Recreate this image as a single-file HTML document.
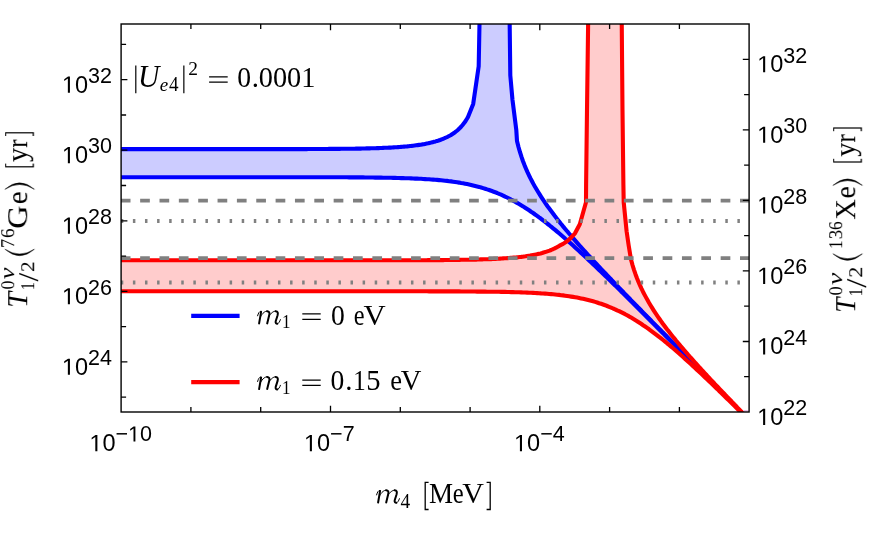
<!DOCTYPE html>
<html><head><meta charset="utf-8"><title>plot</title><style>html,body{margin:0;padding:0;background:#fff}svg{display:block}</style></head><body>
<svg width="872" height="537" viewBox="0 0 872 537">
<rect width="872" height="537" fill="#fff"/>
<defs><clipPath id="c"><rect x="121.1" y="24.0" width="628.0" height="388.0"/></clipPath></defs>
<g clip-path="url(#c)" fill="none" stroke-linejoin="round">
<polygon points="119.1,149.1 120.6,149.1 122.1,149.1 123.6,149.1 125.1,149.1 126.6,149.1 128.1,149.1 129.6,149.1 131.1,149.1 132.6,149.1 134.1,149.1 135.6,149.1 137.1,149.1 138.6,149.1 140.1,149.1 141.6,149.1 143.1,149.1 144.6,149.1 146.1,149.1 147.6,149.1 149.1,149.1 150.6,149.1 152.1,149.1 153.6,149.1 155.1,149.1 156.6,149.1 158.1,149.1 159.6,149.1 161.1,149.1 162.6,149.1 164.1,149.1 165.6,149.1 167.1,149.1 168.6,149.1 170.1,149.1 171.6,149.1 173.1,149.1 174.6,149.1 176.1,149.1 177.6,149.1 179.1,149.1 180.6,149.1 182.1,149.1 183.6,149.1 185.1,149.1 186.6,149.1 188.1,149.1 189.6,149.1 191.1,149.1 192.6,149.1 194.1,149.1 195.6,149.1 197.1,149.1 198.6,149.1 200.1,149.1 201.6,149.1 203.1,149.1 204.6,149.1 206.1,149.1 207.6,149.1 209.1,149.1 210.6,149.1 212.1,149.1 213.6,149.1 215.1,149.1 216.6,149.1 218.1,149.1 219.6,149.1 221.1,149.1 222.6,149.1 224.1,149.1 225.6,149.1 227.1,149.1 228.6,149.1 230.1,149.1 231.6,149.1 233.1,149.1 234.6,149.1 236.1,149.1 237.6,149.1 239.1,149.1 240.6,149.1 242.1,149.1 243.6,149.1 245.1,149.1 246.6,149.1 248.1,149.1 249.6,149.1 251.1,149.1 252.6,149.1 254.1,149.1 255.6,149.1 257.1,149.1 258.6,149.1 260.1,149.1 261.6,149.1 263.1,149.1 264.6,149.1 266.1,149.1 267.6,149.1 269.1,149.1 270.6,149.1 272.1,149.1 273.6,149.1 275.1,149.1 276.6,149.1 278.1,149.1 279.6,149.1 281.1,149.1 282.6,149.1 284.1,149.1 285.6,149.1 287.1,149.1 288.6,149.1 290.1,149.1 291.6,149.1 293.1,149.1 294.6,149.1 296.1,149.1 297.6,149.1 299.1,149.1 300.6,149.1 302.1,149.1 303.6,149.1 305.1,149.1 306.6,149.1 308.1,149.0 309.6,149.0 311.1,149.0 312.6,149.0 314.1,149.0 315.6,149.0 317.1,149.0 318.6,149.0 320.1,149.0 321.6,149.0 323.1,149.0 324.6,149.0 326.1,149.0 327.6,149.0 329.1,148.9 330.6,148.9 332.1,148.9 333.6,148.9 335.1,148.9 336.6,148.9 338.1,148.9 339.6,148.9 341.1,148.8 342.6,148.8 344.1,148.8 345.6,148.8 347.1,148.8 348.6,148.8 350.1,148.7 351.6,148.7 353.1,148.7 354.6,148.7 356.1,148.6 357.6,148.6 359.1,148.6 360.6,148.6 362.1,148.5 363.6,148.5 365.1,148.5 366.6,148.4 368.1,148.4 369.6,148.4 371.1,148.3 372.6,148.3 374.1,148.2 375.6,148.2 377.1,148.1 378.6,148.1 380.1,148.0 381.6,148.0 383.1,147.9 384.6,147.8 386.1,147.8 387.6,147.7 389.1,147.6 390.6,147.6 392.1,147.5 393.6,147.4 395.1,147.3 396.6,147.2 398.1,147.1 399.6,147.0 401.1,146.9 402.6,146.8 404.1,146.6 405.6,146.5 407.1,146.4 408.6,146.2 410.1,146.0 411.6,145.9 413.1,145.7 414.6,145.5 416.1,145.3 417.6,145.1 419.1,144.9 420.6,144.7 422.1,144.4 423.6,144.2 425.1,143.9 426.6,143.6 428.1,143.3 429.6,142.9 431.1,142.6 432.6,142.2 434.1,141.8 435.6,141.4 437.1,140.9 438.6,140.5 440.1,140.0 441.6,139.4 443.1,138.8 444.6,138.2 446.1,137.5 447.6,136.8 449.1,136.0 450.6,135.2 452.1,134.2 453.6,133.2 455.1,132.2 456.6,131.0 458.1,129.7 459.6,128.3 461.1,126.8 462.6,125.0 464.1,123.1 465.6,121.0 467.1,118.5 468.0,116.9 473.2,103.9 478.7,66.2 479.6,18.0 509.6,18.0 510.3,75.4 512.5,100.0 516.3,130.0 517.0,141.0 518.5,147.0 520.0,152.2 521.5,156.9 523.0,161.2 524.5,165.1 526.0,168.7 527.5,172.1 529.0,175.3 530.5,178.4 532.0,181.3 533.5,184.1 535.0,186.8 536.5,189.3 538.0,191.8 539.5,194.2 541.0,196.6 542.5,198.9 544.0,201.1 545.5,203.3 547.0,205.5 548.5,207.6 550.0,209.6 551.5,211.6 553.0,213.6 554.5,215.6 556.0,217.5 557.5,219.4 559.0,221.3 560.5,223.2 562.0,225.0 563.5,226.9 565.0,228.7 566.5,230.5 568.0,232.2 569.5,234.0 571.0,235.7 572.5,237.5 574.0,239.2 575.5,240.9 577.0,242.6 578.5,244.3 580.0,246.0 581.5,247.7 583.0,249.3 584.5,251.0 586.0,252.6 587.5,254.3 589.0,255.9 590.5,257.5 592.0,259.2 593.5,260.8 595.0,262.4 596.5,264.0 598.0,265.6 599.5,267.2 601.0,268.8 602.5,270.4 604.0,272.0 605.5,273.5 607.0,275.1 608.5,276.7 610.0,278.3 611.5,279.8 613.0,281.4 614.5,283.0 616.0,284.5 617.5,286.1 619.0,287.7 620.5,289.2 622.0,290.8 623.5,292.3 625.0,293.9 626.5,295.4 628.0,297.0 629.5,298.5 631.0,300.1 632.5,301.6 634.0,303.1 635.5,304.7 637.0,306.2 638.5,307.8 640.0,309.3 641.5,310.8 643.0,312.4 644.5,313.9 646.0,315.4 647.5,317.0 649.0,318.5 650.5,320.0 652.0,321.6 653.5,323.1 655.0,324.6 656.5,326.2 658.0,327.7 659.5,329.2 661.0,330.7 662.5,332.3 664.0,333.8 665.5,335.3 667.0,336.8 668.5,338.4 670.0,339.9 671.5,341.4 673.0,342.9 674.5,344.4 676.0,346.0 677.5,347.5 679.0,349.0 680.5,350.5 682.0,352.1 683.5,353.6 685.0,355.1 686.5,356.6 688.0,358.1 689.5,359.7 691.0,361.2 692.5,362.7 694.0,364.2 695.5,365.7 697.0,367.3 698.5,368.8 700.0,370.3 701.5,371.8 703.0,373.3 704.5,374.9 706.0,376.4 707.5,377.9 709.0,379.4 710.5,380.9 712.0,382.4 713.5,384.0 715.0,385.5 716.5,387.0 718.0,388.5 719.5,390.0 721.0,391.6 722.5,393.1 724.0,394.6 725.5,396.1 727.0,397.6 728.5,399.1 730.0,400.7 731.5,402.2 733.0,403.7 734.5,405.2 736.0,406.7 737.5,408.2 739.0,409.8 740.5,411.3 742.0,412.8 743.5,414.3 745.0,415.8 746.5,417.3 748.0,418.9 749.5,420.4 751.0,421.9 752.5,423.4 754.0,424.9 755.5,426.4 757.0,428.0 757.1,428.1 757.1,428.1 755.1,426.1 753.1,424.0 751.1,422.0 749.1,420.0 747.1,418.0 745.1,416.0 743.1,413.9 741.1,411.9 739.1,409.9 737.1,407.9 735.1,405.8 733.1,403.8 731.1,401.8 729.1,399.8 727.1,397.8 725.1,395.7 723.1,393.7 721.1,391.7 719.1,389.7 717.1,387.7 715.1,385.6 713.1,383.6 711.1,381.6 709.1,379.6 707.1,377.6 705.1,375.6 703.1,373.5 701.1,371.5 699.1,369.5 697.1,367.5 695.1,365.5 693.1,363.4 691.1,361.4 689.1,359.4 687.1,357.4 685.1,355.4 683.1,353.4 681.1,351.4 679.1,349.3 677.1,347.3 675.1,345.3 673.1,343.3 671.1,341.3 669.1,339.3 667.1,337.3 665.1,335.3 663.1,333.2 661.1,331.2 659.1,329.2 657.1,327.2 655.1,325.2 653.1,323.2 651.1,321.2 649.1,319.2 647.1,317.2 645.1,315.2 643.1,313.2 641.1,311.2 639.1,309.2 637.1,307.2 635.1,305.2 633.1,303.2 631.1,301.3 629.1,299.3 627.1,297.3 625.1,295.3 623.1,293.3 621.1,291.4 619.1,289.4 617.1,287.4 615.1,285.4 613.1,283.5 611.1,281.5 609.1,279.6 607.1,277.6 605.1,275.7 603.1,273.8 601.1,271.8 599.1,269.9 597.1,268.0 595.1,266.1 593.1,264.2 591.1,262.3 589.1,260.4 587.1,258.5 585.1,256.6 583.1,254.7 581.1,252.9 579.1,251.0 577.1,249.2 575.1,247.4 573.1,245.6 571.1,243.8 569.1,242.0 567.1,240.2 565.1,238.5 563.1,236.7 561.1,235.0 559.1,233.3 557.1,231.6 555.1,229.9 553.1,228.3 551.1,226.7 549.1,225.0 547.1,223.5 545.1,221.9 543.1,220.4 541.1,218.8 539.1,217.4 537.1,215.9 535.1,214.5 533.1,213.0 531.1,211.7 529.1,210.3 527.1,209.0 525.1,207.7 523.1,206.4 521.1,205.2 519.1,204.0 517.1,202.9 515.1,201.7 513.1,200.6 511.1,199.6 509.1,198.5 507.1,197.5 505.1,196.6 503.1,195.6 501.1,194.7 499.1,193.9 497.1,193.0 495.1,192.2 493.1,191.5 491.1,190.7 489.1,190.0 487.1,189.4 485.1,188.7 483.1,188.1 481.1,187.5 479.1,186.9 477.1,186.4 475.1,185.9 473.1,185.4 471.1,184.9 469.1,184.5 467.1,184.1 465.1,183.7 463.1,183.3 461.1,183.0 459.1,182.6 457.1,182.3 455.1,182.0 453.1,181.7 451.1,181.4 449.1,181.2 447.1,180.9 445.1,180.7 443.1,180.5 441.1,180.3 439.1,180.1 437.1,179.9 435.1,179.8 433.1,179.6 431.1,179.5 429.1,179.3 427.1,179.2 425.1,179.1 423.1,179.0 421.1,178.8 419.1,178.7 417.1,178.6 415.1,178.6 413.1,178.5 411.1,178.4 409.1,178.3 407.1,178.2 405.1,178.2 403.1,178.1 401.1,178.1 399.1,178.0 397.1,178.0 395.1,177.9 393.1,177.9 391.1,177.8 389.1,177.8 387.1,177.7 385.1,177.7 383.1,177.7 381.1,177.6 379.1,177.6 377.1,177.6 375.1,177.6 373.1,177.5 371.1,177.5 369.1,177.5 367.1,177.5 365.1,177.5 363.1,177.4 361.1,177.4 359.1,177.4 357.1,177.4 355.1,177.4 353.1,177.4 351.1,177.4 349.1,177.4 347.1,177.3 345.1,177.3 343.1,177.3 341.1,177.3 339.1,177.3 337.1,177.3 335.1,177.3 333.1,177.3 331.1,177.3 329.1,177.3 327.1,177.3 325.1,177.3 323.1,177.3 321.1,177.3 319.1,177.3 317.1,177.3 315.1,177.3 313.1,177.2 311.1,177.2 309.1,177.2 307.1,177.2 305.1,177.2 303.1,177.2 301.1,177.2 299.1,177.2 297.1,177.2 295.1,177.2 293.1,177.2 291.1,177.2 289.1,177.2 287.1,177.2 285.1,177.2 283.1,177.2 281.1,177.2 279.1,177.2 277.1,177.2 275.1,177.2 273.1,177.2 271.1,177.2 269.1,177.2 267.1,177.2 265.1,177.2 263.1,177.2 261.1,177.2 259.1,177.2 257.1,177.2 255.1,177.2 253.1,177.2 251.1,177.2 249.1,177.2 247.1,177.2 245.1,177.2 243.1,177.2 241.1,177.2 239.1,177.2 237.1,177.2 235.1,177.2 233.1,177.2 231.1,177.2 229.1,177.2 227.1,177.2 225.1,177.2 223.1,177.2 221.1,177.2 219.1,177.2 217.1,177.2 215.1,177.2 213.1,177.2 211.1,177.2 209.1,177.2 207.1,177.2 205.1,177.2 203.1,177.2 201.1,177.2 199.1,177.2 197.1,177.2 195.1,177.2 193.1,177.2 191.1,177.2 189.1,177.2 187.1,177.2 185.1,177.2 183.1,177.2 181.1,177.2 179.1,177.2 177.1,177.2 175.1,177.2 173.1,177.2 171.1,177.2 169.1,177.2 167.1,177.2 165.1,177.2 163.1,177.2 161.1,177.2 159.1,177.2 157.1,177.2 155.1,177.2 153.1,177.2 151.1,177.2 149.1,177.2 147.1,177.2 145.1,177.2 143.1,177.2 141.1,177.2 139.1,177.2 137.1,177.2 135.1,177.2 133.1,177.2 131.1,177.2 129.1,177.2 127.1,177.2 125.1,177.2 123.1,177.2 121.1,177.2 119.1,177.2" fill="#0000ff" fill-opacity="0.2"/>
<polygon points="119.1,260.3 120.6,260.3 122.1,260.3 123.6,260.3 125.1,260.3 126.6,260.3 128.1,260.3 129.6,260.3 131.1,260.3 132.6,260.3 134.1,260.3 135.6,260.3 137.1,260.3 138.6,260.3 140.1,260.3 141.6,260.3 143.1,260.3 144.6,260.3 146.1,260.3 147.6,260.3 149.1,260.3 150.6,260.3 152.1,260.3 153.6,260.3 155.1,260.3 156.6,260.3 158.1,260.3 159.6,260.3 161.1,260.3 162.6,260.3 164.1,260.3 165.6,260.3 167.1,260.3 168.6,260.3 170.1,260.3 171.6,260.3 173.1,260.3 174.6,260.3 176.1,260.3 177.6,260.3 179.1,260.3 180.6,260.3 182.1,260.3 183.6,260.3 185.1,260.3 186.6,260.3 188.1,260.3 189.6,260.3 191.1,260.3 192.6,260.3 194.1,260.3 195.6,260.3 197.1,260.3 198.6,260.3 200.1,260.3 201.6,260.3 203.1,260.3 204.6,260.3 206.1,260.3 207.6,260.3 209.1,260.3 210.6,260.3 212.1,260.3 213.6,260.3 215.1,260.3 216.6,260.3 218.1,260.3 219.6,260.3 221.1,260.3 222.6,260.3 224.1,260.3 225.6,260.3 227.1,260.3 228.6,260.3 230.1,260.3 231.6,260.3 233.1,260.3 234.6,260.3 236.1,260.3 237.6,260.3 239.1,260.3 240.6,260.3 242.1,260.3 243.6,260.3 245.1,260.3 246.6,260.3 248.1,260.3 249.6,260.3 251.1,260.3 252.6,260.3 254.1,260.3 255.6,260.3 257.1,260.3 258.6,260.3 260.1,260.3 261.6,260.3 263.1,260.3 264.6,260.3 266.1,260.3 267.6,260.3 269.1,260.3 270.6,260.3 272.1,260.3 273.6,260.3 275.1,260.3 276.6,260.3 278.1,260.3 279.6,260.3 281.1,260.3 282.6,260.3 284.1,260.3 285.6,260.3 287.1,260.3 288.6,260.3 290.1,260.3 291.6,260.3 293.1,260.3 294.6,260.3 296.1,260.3 297.6,260.3 299.1,260.3 300.6,260.3 302.1,260.3 303.6,260.3 305.1,260.3 306.6,260.3 308.1,260.3 309.6,260.3 311.1,260.3 312.6,260.3 314.1,260.3 315.6,260.3 317.1,260.3 318.6,260.3 320.1,260.3 321.6,260.3 323.1,260.3 324.6,260.3 326.1,260.3 327.6,260.3 329.1,260.3 330.6,260.3 332.1,260.3 333.6,260.3 335.1,260.3 336.6,260.3 338.1,260.3 339.6,260.3 341.1,260.3 342.6,260.3 344.1,260.3 345.6,260.3 347.1,260.3 348.6,260.3 350.1,260.3 351.6,260.3 353.1,260.3 354.6,260.3 356.1,260.3 357.6,260.3 359.1,260.3 360.6,260.3 362.1,260.3 363.6,260.3 365.1,260.3 366.6,260.3 368.1,260.3 369.6,260.3 371.1,260.3 372.6,260.3 374.1,260.3 375.6,260.3 377.1,260.3 378.6,260.3 380.1,260.3 381.6,260.3 383.1,260.3 384.6,260.3 386.1,260.3 387.6,260.3 389.1,260.3 390.6,260.3 392.1,260.3 393.6,260.3 395.1,260.2 396.6,260.2 398.1,260.2 399.6,260.2 401.1,260.2 402.6,260.2 404.1,260.2 405.6,260.2 407.1,260.2 408.6,260.2 410.1,260.2 411.6,260.2 413.1,260.2 414.6,260.2 416.1,260.2 417.6,260.2 419.1,260.2 420.6,260.2 422.1,260.2 423.6,260.2 425.1,260.2 426.6,260.2 428.1,260.1 429.6,260.1 431.1,260.1 432.6,260.1 434.1,260.1 435.6,260.1 437.1,260.1 438.6,260.1 440.1,260.1 441.6,260.1 443.1,260.1 444.6,260.0 446.1,260.0 447.6,260.0 449.1,260.0 450.6,260.0 452.1,260.0 453.6,259.9 455.1,259.9 456.6,259.9 458.1,259.9 459.6,259.9 461.1,259.8 462.6,259.8 464.1,259.8 465.6,259.8 467.1,259.7 468.6,259.7 470.1,259.7 471.6,259.7 473.1,259.6 474.6,259.6 476.1,259.6 477.6,259.5 479.1,259.5 480.6,259.4 482.1,259.4 483.6,259.3 485.1,259.3 486.6,259.2 488.1,259.2 489.6,259.1 491.1,259.1 492.6,259.0 494.1,258.9 495.6,258.9 497.1,258.8 498.6,258.7 500.1,258.6 501.6,258.5 503.1,258.4 504.6,258.3 506.1,258.2 507.6,258.1 509.1,258.0 510.6,257.9 512.1,257.8 513.6,257.6 515.1,257.5 516.6,257.4 518.1,257.2 519.6,257.0 521.1,256.9 522.6,256.7 524.1,256.5 525.6,256.3 527.1,256.0 528.6,255.8 530.1,255.6 531.6,255.3 533.1,255.0 534.6,254.7 536.1,254.4 537.6,254.1 539.1,253.7 540.6,253.4 542.1,253.0 543.6,252.5 545.1,252.1 546.6,251.6 548.1,251.1 549.6,250.6 551.1,250.0 552.6,249.3 554.1,248.7 555.6,247.9 556.0,247.7 559.5,245.7 563.1,243.9 567.0,241.3 570.6,238.1 575.0,233.3 579.8,224.3 586.0,202.3 586.1,185.0 587.0,110.0 588.2,18.0 621.7,18.0 622.5,110.0 623.4,185.0 623.7,202.3 626.6,231.2 628.6,245.0 631.0,259.5 632.5,265.0 634.0,269.8 635.5,274.2 637.0,278.2 638.5,281.9 640.0,285.3 641.5,288.6 643.0,291.7 644.5,294.6 646.0,297.4 647.5,300.1 649.0,302.8 650.5,305.3 652.0,307.7 653.5,310.1 655.0,312.4 656.5,314.6 658.0,316.8 659.5,319.0 661.0,321.1 662.5,323.2 664.0,325.2 665.5,327.2 667.0,329.2 668.5,331.1 670.0,333.0 671.5,334.9 673.0,336.8 674.5,338.6 676.0,340.5 677.5,342.3 679.0,344.1 680.5,345.9 682.0,347.6 683.5,349.4 685.0,351.1 686.5,352.8 688.0,354.6 689.5,356.3 691.0,357.9 692.5,359.6 694.0,361.3 695.5,363.0 697.0,364.6 698.5,366.3 700.0,367.9 701.5,369.6 703.0,371.2 704.5,372.8 706.0,374.4 707.5,376.1 709.0,377.7 710.5,379.3 712.0,380.9 713.5,382.5 715.0,384.1 716.5,385.6 718.0,387.2 719.5,388.8 721.0,390.4 722.5,392.0 724.0,393.5 725.5,395.1 727.0,396.7 728.5,398.2 730.0,399.8 731.5,401.3 733.0,402.9 734.5,404.5 736.0,406.0 737.5,407.6 739.0,409.1 740.5,410.7 742.0,412.2 743.5,413.8 745.0,415.3 746.5,416.8 748.0,418.4 749.5,419.9 751.0,421.5 752.5,423.0 754.0,424.5 755.5,426.1 757.0,427.6 757.1,427.7 757.1,428.4 755.1,426.4 753.1,424.4 751.1,422.4 749.1,420.4 747.1,418.4 745.1,416.4 743.1,414.5 741.1,412.5 739.1,410.5 737.1,408.5 735.1,406.5 733.1,404.6 731.1,402.6 729.1,400.6 727.1,398.7 725.1,396.7 723.1,394.8 721.1,392.8 719.1,390.9 717.1,388.9 715.1,387.0 713.1,385.1 711.1,383.1 709.1,381.2 707.1,379.3 705.1,377.4 703.1,375.5 701.1,373.6 699.1,371.7 697.1,369.9 695.1,368.0 693.1,366.2 691.1,364.3 689.1,362.5 687.1,360.7 685.1,358.9 683.1,357.1 681.1,355.3 679.1,353.5 677.1,351.8 675.1,350.0 673.1,348.3 671.1,346.6 669.1,344.9 667.1,343.3 665.1,341.6 663.1,340.0 661.1,338.4 659.1,336.9 657.1,335.3 655.1,333.8 653.1,332.3 651.1,330.8 649.1,329.3 647.1,327.9 645.1,326.5 643.1,325.2 641.1,323.8 639.1,322.5 637.1,321.2 635.1,320.0 633.1,318.8 631.1,317.6 629.1,316.4 627.1,315.3 625.1,314.2 623.1,313.2 621.1,312.2 619.1,311.2 617.1,310.3 615.1,309.3 613.1,308.5 611.1,307.6 609.1,306.8 607.1,306.0 605.1,305.2 603.1,304.5 601.1,303.8 599.1,303.2 597.1,302.5 595.1,301.9 593.1,301.3 591.1,300.8 589.1,300.3 587.1,299.8 585.1,299.3 583.1,298.8 581.1,298.4 579.1,298.0 577.1,297.6 575.1,297.2 573.1,296.9 571.1,296.6 569.1,296.3 567.1,296.0 565.1,295.7 563.1,295.4 561.1,295.2 559.1,294.9 557.1,294.7 555.1,294.5 553.1,294.3 551.1,294.1 549.1,294.0 547.1,293.8 545.1,293.6 543.1,293.5 541.1,293.4 539.1,293.2 537.1,293.1 535.1,293.0 533.1,292.9 531.1,292.8 529.1,292.7 527.1,292.6 525.1,292.5 523.1,292.5 521.1,292.4 519.1,292.3 517.1,292.3 515.1,292.2 513.1,292.1 511.1,292.1 509.1,292.0 507.1,292.0 505.1,291.9 503.1,291.9 501.1,291.9 499.1,291.8 497.1,291.8 495.1,291.8 493.1,291.7 491.1,291.7 489.1,291.7 487.1,291.7 485.1,291.6 483.1,291.6 481.1,291.6 479.1,291.6 477.1,291.6 475.1,291.5 473.1,291.5 471.1,291.5 469.1,291.5 467.1,291.5 465.1,291.5 463.1,291.5 461.1,291.5 459.1,291.4 457.1,291.4 455.1,291.4 453.1,291.4 451.1,291.4 449.1,291.4 447.1,291.4 445.1,291.4 443.1,291.4 441.1,291.4 439.1,291.4 437.1,291.4 435.1,291.4 433.1,291.4 431.1,291.4 429.1,291.4 427.1,291.3 425.1,291.3 423.1,291.3 421.1,291.3 419.1,291.3 417.1,291.3 415.1,291.3 413.1,291.3 411.1,291.3 409.1,291.3 407.1,291.3 405.1,291.3 403.1,291.3 401.1,291.3 399.1,291.3 397.1,291.3 395.1,291.3 393.1,291.3 391.1,291.3 389.1,291.3 387.1,291.3 385.1,291.3 383.1,291.3 381.1,291.3 379.1,291.3 377.1,291.3 375.1,291.3 373.1,291.3 371.1,291.3 369.1,291.3 367.1,291.3 365.1,291.3 363.1,291.3 361.1,291.3 359.1,291.3 357.1,291.3 355.1,291.3 353.1,291.3 351.1,291.3 349.1,291.3 347.1,291.3 345.1,291.3 343.1,291.3 341.1,291.3 339.1,291.3 337.1,291.3 335.1,291.3 333.1,291.3 331.1,291.3 329.1,291.3 327.1,291.3 325.1,291.3 323.1,291.3 321.1,291.3 319.1,291.3 317.1,291.3 315.1,291.3 313.1,291.3 311.1,291.3 309.1,291.3 307.1,291.3 305.1,291.3 303.1,291.3 301.1,291.3 299.1,291.3 297.1,291.3 295.1,291.3 293.1,291.3 291.1,291.3 289.1,291.3 287.1,291.3 285.1,291.3 283.1,291.3 281.1,291.3 279.1,291.3 277.1,291.3 275.1,291.3 273.1,291.3 271.1,291.3 269.1,291.3 267.1,291.3 265.1,291.3 263.1,291.3 261.1,291.3 259.1,291.3 257.1,291.3 255.1,291.3 253.1,291.3 251.1,291.3 249.1,291.3 247.1,291.3 245.1,291.3 243.1,291.3 241.1,291.3 239.1,291.3 237.1,291.3 235.1,291.3 233.1,291.3 231.1,291.3 229.1,291.3 227.1,291.3 225.1,291.3 223.1,291.3 221.1,291.3 219.1,291.3 217.1,291.3 215.1,291.3 213.1,291.3 211.1,291.3 209.1,291.3 207.1,291.3 205.1,291.3 203.1,291.3 201.1,291.3 199.1,291.3 197.1,291.3 195.1,291.3 193.1,291.3 191.1,291.3 189.1,291.3 187.1,291.3 185.1,291.3 183.1,291.3 181.1,291.3 179.1,291.3 177.1,291.3 175.1,291.3 173.1,291.3 171.1,291.3 169.1,291.3 167.1,291.3 165.1,291.3 163.1,291.3 161.1,291.3 159.1,291.3 157.1,291.3 155.1,291.3 153.1,291.3 151.1,291.3 149.1,291.3 147.1,291.3 145.1,291.3 143.1,291.3 141.1,291.3 139.1,291.3 137.1,291.3 135.1,291.3 133.1,291.3 131.1,291.3 129.1,291.3 127.1,291.3 125.1,291.3 123.1,291.3 121.1,291.3 119.1,291.3" fill="#ff0000" fill-opacity="0.2"/>
<polyline points="119.1,149.1 120.6,149.1 122.1,149.1 123.6,149.1 125.1,149.1 126.6,149.1 128.1,149.1 129.6,149.1 131.1,149.1 132.6,149.1 134.1,149.1 135.6,149.1 137.1,149.1 138.6,149.1 140.1,149.1 141.6,149.1 143.1,149.1 144.6,149.1 146.1,149.1 147.6,149.1 149.1,149.1 150.6,149.1 152.1,149.1 153.6,149.1 155.1,149.1 156.6,149.1 158.1,149.1 159.6,149.1 161.1,149.1 162.6,149.1 164.1,149.1 165.6,149.1 167.1,149.1 168.6,149.1 170.1,149.1 171.6,149.1 173.1,149.1 174.6,149.1 176.1,149.1 177.6,149.1 179.1,149.1 180.6,149.1 182.1,149.1 183.6,149.1 185.1,149.1 186.6,149.1 188.1,149.1 189.6,149.1 191.1,149.1 192.6,149.1 194.1,149.1 195.6,149.1 197.1,149.1 198.6,149.1 200.1,149.1 201.6,149.1 203.1,149.1 204.6,149.1 206.1,149.1 207.6,149.1 209.1,149.1 210.6,149.1 212.1,149.1 213.6,149.1 215.1,149.1 216.6,149.1 218.1,149.1 219.6,149.1 221.1,149.1 222.6,149.1 224.1,149.1 225.6,149.1 227.1,149.1 228.6,149.1 230.1,149.1 231.6,149.1 233.1,149.1 234.6,149.1 236.1,149.1 237.6,149.1 239.1,149.1 240.6,149.1 242.1,149.1 243.6,149.1 245.1,149.1 246.6,149.1 248.1,149.1 249.6,149.1 251.1,149.1 252.6,149.1 254.1,149.1 255.6,149.1 257.1,149.1 258.6,149.1 260.1,149.1 261.6,149.1 263.1,149.1 264.6,149.1 266.1,149.1 267.6,149.1 269.1,149.1 270.6,149.1 272.1,149.1 273.6,149.1 275.1,149.1 276.6,149.1 278.1,149.1 279.6,149.1 281.1,149.1 282.6,149.1 284.1,149.1 285.6,149.1 287.1,149.1 288.6,149.1 290.1,149.1 291.6,149.1 293.1,149.1 294.6,149.1 296.1,149.1 297.6,149.1 299.1,149.1 300.6,149.1 302.1,149.1 303.6,149.1 305.1,149.1 306.6,149.1 308.1,149.0 309.6,149.0 311.1,149.0 312.6,149.0 314.1,149.0 315.6,149.0 317.1,149.0 318.6,149.0 320.1,149.0 321.6,149.0 323.1,149.0 324.6,149.0 326.1,149.0 327.6,149.0 329.1,148.9 330.6,148.9 332.1,148.9 333.6,148.9 335.1,148.9 336.6,148.9 338.1,148.9 339.6,148.9 341.1,148.8 342.6,148.8 344.1,148.8 345.6,148.8 347.1,148.8 348.6,148.8 350.1,148.7 351.6,148.7 353.1,148.7 354.6,148.7 356.1,148.6 357.6,148.6 359.1,148.6 360.6,148.6 362.1,148.5 363.6,148.5 365.1,148.5 366.6,148.4 368.1,148.4 369.6,148.4 371.1,148.3 372.6,148.3 374.1,148.2 375.6,148.2 377.1,148.1 378.6,148.1 380.1,148.0 381.6,148.0 383.1,147.9 384.6,147.8 386.1,147.8 387.6,147.7 389.1,147.6 390.6,147.6 392.1,147.5 393.6,147.4 395.1,147.3 396.6,147.2 398.1,147.1 399.6,147.0 401.1,146.9 402.6,146.8 404.1,146.6 405.6,146.5 407.1,146.4 408.6,146.2 410.1,146.0 411.6,145.9 413.1,145.7 414.6,145.5 416.1,145.3 417.6,145.1 419.1,144.9 420.6,144.7 422.1,144.4 423.6,144.2 425.1,143.9 426.6,143.6 428.1,143.3 429.6,142.9 431.1,142.6 432.6,142.2 434.1,141.8 435.6,141.4 437.1,140.9 438.6,140.5 440.1,140.0 441.6,139.4 443.1,138.8 444.6,138.2 446.1,137.5 447.6,136.8 449.1,136.0 450.6,135.2 452.1,134.2 453.6,133.2 455.1,132.2 456.6,131.0 458.1,129.7 459.6,128.3 461.1,126.8 462.6,125.0 464.1,123.1 465.6,121.0 467.1,118.5 468.0,116.9 473.2,103.9 478.7,66.2 479.6,18.0" stroke="#0000ff" stroke-width="4.1"/>
<polyline points="509.6,18.0 510.3,75.4 512.5,100.0 516.3,130.0 517.0,141.0 518.5,147.0 520.0,152.2 521.5,156.9 523.0,161.2 524.5,165.1 526.0,168.7 527.5,172.1 529.0,175.3 530.5,178.4 532.0,181.3 533.5,184.1 535.0,186.8 536.5,189.3 538.0,191.8 539.5,194.2 541.0,196.6 542.5,198.9 544.0,201.1 545.5,203.3 547.0,205.5 548.5,207.6 550.0,209.6 551.5,211.6 553.0,213.6 554.5,215.6 556.0,217.5 557.5,219.4 559.0,221.3 560.5,223.2 562.0,225.0 563.5,226.9 565.0,228.7 566.5,230.5 568.0,232.2 569.5,234.0 571.0,235.7 572.5,237.5 574.0,239.2 575.5,240.9 577.0,242.6 578.5,244.3 580.0,246.0 581.5,247.7 583.0,249.3 584.5,251.0 586.0,252.6 587.5,254.3 589.0,255.9 590.5,257.5 592.0,259.2 593.5,260.8 595.0,262.4 596.5,264.0 598.0,265.6 599.5,267.2 601.0,268.8 602.5,270.4 604.0,272.0 605.5,273.5 607.0,275.1 608.5,276.7 610.0,278.3 611.5,279.8 613.0,281.4 614.5,283.0 616.0,284.5 617.5,286.1 619.0,287.7 620.5,289.2 622.0,290.8 623.5,292.3 625.0,293.9 626.5,295.4 628.0,297.0 629.5,298.5 631.0,300.1 632.5,301.6 634.0,303.1 635.5,304.7 637.0,306.2 638.5,307.8 640.0,309.3 641.5,310.8 643.0,312.4 644.5,313.9 646.0,315.4 647.5,317.0 649.0,318.5 650.5,320.0 652.0,321.6 653.5,323.1 655.0,324.6 656.5,326.2 658.0,327.7 659.5,329.2 661.0,330.7 662.5,332.3 664.0,333.8 665.5,335.3 667.0,336.8 668.5,338.4 670.0,339.9 671.5,341.4 673.0,342.9 674.5,344.4 676.0,346.0 677.5,347.5 679.0,349.0 680.5,350.5 682.0,352.1 683.5,353.6 685.0,355.1 686.5,356.6 688.0,358.1 689.5,359.7 691.0,361.2 692.5,362.7 694.0,364.2 695.5,365.7 697.0,367.3 698.5,368.8 700.0,370.3 701.5,371.8 703.0,373.3 704.5,374.9" stroke="#0000ff" stroke-width="4.1"/>
<polyline points="119.1,177.2 121.1,177.2 123.1,177.2 125.1,177.2 127.1,177.2 129.1,177.2 131.1,177.2 133.1,177.2 135.1,177.2 137.1,177.2 139.1,177.2 141.1,177.2 143.1,177.2 145.1,177.2 147.1,177.2 149.1,177.2 151.1,177.2 153.1,177.2 155.1,177.2 157.1,177.2 159.1,177.2 161.1,177.2 163.1,177.2 165.1,177.2 167.1,177.2 169.1,177.2 171.1,177.2 173.1,177.2 175.1,177.2 177.1,177.2 179.1,177.2 181.1,177.2 183.1,177.2 185.1,177.2 187.1,177.2 189.1,177.2 191.1,177.2 193.1,177.2 195.1,177.2 197.1,177.2 199.1,177.2 201.1,177.2 203.1,177.2 205.1,177.2 207.1,177.2 209.1,177.2 211.1,177.2 213.1,177.2 215.1,177.2 217.1,177.2 219.1,177.2 221.1,177.2 223.1,177.2 225.1,177.2 227.1,177.2 229.1,177.2 231.1,177.2 233.1,177.2 235.1,177.2 237.1,177.2 239.1,177.2 241.1,177.2 243.1,177.2 245.1,177.2 247.1,177.2 249.1,177.2 251.1,177.2 253.1,177.2 255.1,177.2 257.1,177.2 259.1,177.2 261.1,177.2 263.1,177.2 265.1,177.2 267.1,177.2 269.1,177.2 271.1,177.2 273.1,177.2 275.1,177.2 277.1,177.2 279.1,177.2 281.1,177.2 283.1,177.2 285.1,177.2 287.1,177.2 289.1,177.2 291.1,177.2 293.1,177.2 295.1,177.2 297.1,177.2 299.1,177.2 301.1,177.2 303.1,177.2 305.1,177.2 307.1,177.2 309.1,177.2 311.1,177.2 313.1,177.2 315.1,177.3 317.1,177.3 319.1,177.3 321.1,177.3 323.1,177.3 325.1,177.3 327.1,177.3 329.1,177.3 331.1,177.3 333.1,177.3 335.1,177.3 337.1,177.3 339.1,177.3 341.1,177.3 343.1,177.3 345.1,177.3 347.1,177.3 349.1,177.4 351.1,177.4 353.1,177.4 355.1,177.4 357.1,177.4 359.1,177.4 361.1,177.4 363.1,177.4 365.1,177.5 367.1,177.5 369.1,177.5 371.1,177.5 373.1,177.5 375.1,177.6 377.1,177.6 379.1,177.6 381.1,177.6 383.1,177.7 385.1,177.7 387.1,177.7 389.1,177.8 391.1,177.8 393.1,177.9 395.1,177.9 397.1,178.0 399.1,178.0 401.1,178.1 403.1,178.1 405.1,178.2 407.1,178.2 409.1,178.3 411.1,178.4 413.1,178.5 415.1,178.6 417.1,178.6 419.1,178.7 421.1,178.8 423.1,179.0 425.1,179.1 427.1,179.2 429.1,179.3 431.1,179.5 433.1,179.6 435.1,179.8 437.1,179.9 439.1,180.1 441.1,180.3 443.1,180.5 445.1,180.7 447.1,180.9 449.1,181.2 451.1,181.4 453.1,181.7 455.1,182.0 457.1,182.3 459.1,182.6 461.1,183.0 463.1,183.3 465.1,183.7 467.1,184.1 469.1,184.5 471.1,184.9 473.1,185.4 475.1,185.9 477.1,186.4 479.1,186.9 481.1,187.5 483.1,188.1 485.1,188.7 487.1,189.4 489.1,190.0 491.1,190.7 493.1,191.5 495.1,192.2 497.1,193.0 499.1,193.9 501.1,194.7 503.1,195.6 505.1,196.6 507.1,197.5 509.1,198.5 511.1,199.6 513.1,200.6 515.1,201.7 517.1,202.9 519.1,204.0 521.1,205.2 523.1,206.4 525.1,207.7 527.1,209.0 529.1,210.3 531.1,211.7 533.1,213.0 535.1,214.5 537.1,215.9 539.1,217.4 541.1,218.8 543.1,220.4 545.1,221.9 547.1,223.5 549.1,225.0 551.1,226.7 553.1,228.3 555.1,229.9 557.1,231.6 559.1,233.3 561.1,235.0 563.1,236.7 565.1,238.5 567.1,240.2 569.1,242.0 571.1,243.8 573.1,245.6 575.1,247.4 577.1,249.2 579.1,251.0 581.1,252.9 583.1,254.7 585.1,256.6 587.1,258.5 589.1,260.4 591.1,262.3 593.1,264.2 595.1,266.1 597.1,268.0 599.1,269.9 601.1,271.8 603.1,273.8 605.1,275.7 607.1,277.6 609.1,279.6 611.1,281.5 613.1,283.5 615.1,285.4 617.1,287.4 619.1,289.4 621.1,291.4 623.1,293.3 625.1,295.3 627.1,297.3 629.1,299.3 631.1,301.3 633.1,303.2 635.1,305.2 637.1,307.2 639.1,309.2 641.1,311.2 643.1,313.2 645.1,315.2 647.1,317.2 649.1,319.2 651.1,321.2 653.1,323.2 655.1,325.2 657.1,327.2 659.1,329.2 661.1,331.2 663.1,333.2 665.1,335.3 667.1,337.3 669.1,339.3 671.1,341.3 673.1,343.3 675.1,345.3 677.1,347.3 679.1,349.3 681.1,351.4 683.1,353.4 685.1,355.4 687.1,357.4 689.1,359.4 691.1,361.4 693.1,363.4 695.1,365.5 697.1,367.5 699.1,369.5 701.1,371.5 703.1,373.5" stroke="#0000ff" stroke-width="4.1"/>
<polyline points="119.1,260.3 120.6,260.3 122.1,260.3 123.6,260.3 125.1,260.3 126.6,260.3 128.1,260.3 129.6,260.3 131.1,260.3 132.6,260.3 134.1,260.3 135.6,260.3 137.1,260.3 138.6,260.3 140.1,260.3 141.6,260.3 143.1,260.3 144.6,260.3 146.1,260.3 147.6,260.3 149.1,260.3 150.6,260.3 152.1,260.3 153.6,260.3 155.1,260.3 156.6,260.3 158.1,260.3 159.6,260.3 161.1,260.3 162.6,260.3 164.1,260.3 165.6,260.3 167.1,260.3 168.6,260.3 170.1,260.3 171.6,260.3 173.1,260.3 174.6,260.3 176.1,260.3 177.6,260.3 179.1,260.3 180.6,260.3 182.1,260.3 183.6,260.3 185.1,260.3 186.6,260.3 188.1,260.3 189.6,260.3 191.1,260.3 192.6,260.3 194.1,260.3 195.6,260.3 197.1,260.3 198.6,260.3 200.1,260.3 201.6,260.3 203.1,260.3 204.6,260.3 206.1,260.3 207.6,260.3 209.1,260.3 210.6,260.3 212.1,260.3 213.6,260.3 215.1,260.3 216.6,260.3 218.1,260.3 219.6,260.3 221.1,260.3 222.6,260.3 224.1,260.3 225.6,260.3 227.1,260.3 228.6,260.3 230.1,260.3 231.6,260.3 233.1,260.3 234.6,260.3 236.1,260.3 237.6,260.3 239.1,260.3 240.6,260.3 242.1,260.3 243.6,260.3 245.1,260.3 246.6,260.3 248.1,260.3 249.6,260.3 251.1,260.3 252.6,260.3 254.1,260.3 255.6,260.3 257.1,260.3 258.6,260.3 260.1,260.3 261.6,260.3 263.1,260.3 264.6,260.3 266.1,260.3 267.6,260.3 269.1,260.3 270.6,260.3 272.1,260.3 273.6,260.3 275.1,260.3 276.6,260.3 278.1,260.3 279.6,260.3 281.1,260.3 282.6,260.3 284.1,260.3 285.6,260.3 287.1,260.3 288.6,260.3 290.1,260.3 291.6,260.3 293.1,260.3 294.6,260.3 296.1,260.3 297.6,260.3 299.1,260.3 300.6,260.3 302.1,260.3 303.6,260.3 305.1,260.3 306.6,260.3 308.1,260.3 309.6,260.3 311.1,260.3 312.6,260.3 314.1,260.3 315.6,260.3 317.1,260.3 318.6,260.3 320.1,260.3 321.6,260.3 323.1,260.3 324.6,260.3 326.1,260.3 327.6,260.3 329.1,260.3 330.6,260.3 332.1,260.3 333.6,260.3 335.1,260.3 336.6,260.3 338.1,260.3 339.6,260.3 341.1,260.3 342.6,260.3 344.1,260.3 345.6,260.3 347.1,260.3 348.6,260.3 350.1,260.3 351.6,260.3 353.1,260.3 354.6,260.3 356.1,260.3 357.6,260.3 359.1,260.3 360.6,260.3 362.1,260.3 363.6,260.3 365.1,260.3 366.6,260.3 368.1,260.3 369.6,260.3 371.1,260.3 372.6,260.3 374.1,260.3 375.6,260.3 377.1,260.3 378.6,260.3 380.1,260.3 381.6,260.3 383.1,260.3 384.6,260.3 386.1,260.3 387.6,260.3 389.1,260.3 390.6,260.3 392.1,260.3 393.6,260.3 395.1,260.2 396.6,260.2 398.1,260.2 399.6,260.2 401.1,260.2 402.6,260.2 404.1,260.2 405.6,260.2 407.1,260.2 408.6,260.2 410.1,260.2 411.6,260.2 413.1,260.2 414.6,260.2 416.1,260.2 417.6,260.2 419.1,260.2 420.6,260.2 422.1,260.2 423.6,260.2 425.1,260.2 426.6,260.2 428.1,260.1 429.6,260.1 431.1,260.1 432.6,260.1 434.1,260.1 435.6,260.1 437.1,260.1 438.6,260.1 440.1,260.1 441.6,260.1 443.1,260.1 444.6,260.0 446.1,260.0 447.6,260.0 449.1,260.0 450.6,260.0 452.1,260.0 453.6,259.9 455.1,259.9 456.6,259.9 458.1,259.9 459.6,259.9 461.1,259.8 462.6,259.8 464.1,259.8 465.6,259.8 467.1,259.7 468.6,259.7 470.1,259.7 471.6,259.7 473.1,259.6 474.6,259.6 476.1,259.6 477.6,259.5 479.1,259.5 480.6,259.4 482.1,259.4 483.6,259.3 485.1,259.3 486.6,259.2 488.1,259.2 489.6,259.1 491.1,259.1 492.6,259.0 494.1,258.9 495.6,258.9 497.1,258.8 498.6,258.7 500.1,258.6 501.6,258.5 503.1,258.4 504.6,258.3 506.1,258.2 507.6,258.1 509.1,258.0 510.6,257.9 512.1,257.8 513.6,257.6 515.1,257.5 516.6,257.4 518.1,257.2 519.6,257.0 521.1,256.9 522.6,256.7 524.1,256.5 525.6,256.3 527.1,256.0 528.6,255.8 530.1,255.6 531.6,255.3 533.1,255.0 534.6,254.7 536.1,254.4 537.6,254.1 539.1,253.7 540.6,253.4 542.1,253.0 543.6,252.5 545.1,252.1 546.6,251.6 548.1,251.1 549.6,250.6 551.1,250.0 552.6,249.3 554.1,248.7 555.6,247.9 556.0,247.7 559.5,245.7 563.1,243.9 567.0,241.3 570.6,238.1 575.0,233.3 579.8,224.3 586.0,202.3 586.1,185.0 587.0,110.0 588.2,18.0" stroke="#ff0000" stroke-width="4.1"/>
<polyline points="621.7,18.0 622.5,110.0 623.4,185.0 623.7,202.3 626.6,231.2 628.6,245.0 631.0,259.5 632.5,265.0 634.0,269.8 635.5,274.2 637.0,278.2 638.5,281.9 640.0,285.3 641.5,288.6 643.0,291.7 644.5,294.6 646.0,297.4 647.5,300.1 649.0,302.8 650.5,305.3 652.0,307.7 653.5,310.1 655.0,312.4 656.5,314.6 658.0,316.8 659.5,319.0 661.0,321.1 662.5,323.2 664.0,325.2 665.5,327.2 667.0,329.2 668.5,331.1 670.0,333.0 671.5,334.9 673.0,336.8 674.5,338.6 676.0,340.5 677.5,342.3 679.0,344.1 680.5,345.9 682.0,347.6 683.5,349.4 685.0,351.1 686.5,352.8 688.0,354.6 689.5,356.3 691.0,357.9 692.5,359.6 694.0,361.3 695.5,363.0 697.0,364.6 698.5,366.3 700.0,367.9 701.5,369.6 703.0,371.2 704.5,372.8 706.0,374.4 707.5,376.1 709.0,377.7 710.5,379.3 712.0,380.9 713.5,382.5 715.0,384.1 716.5,385.6 718.0,387.2 719.5,388.8 721.0,390.4 722.5,392.0 724.0,393.5 725.5,395.1 727.0,396.7 728.5,398.2 730.0,399.8 731.5,401.3 733.0,402.9 734.5,404.5 736.0,406.0 737.5,407.6 739.0,409.1 740.5,410.7 742.0,412.2 743.5,413.8 745.0,415.3 746.5,416.8 748.0,418.4 749.5,419.9 751.0,421.5 752.5,423.0 754.0,424.5 755.5,426.1 757.0,427.6 757.1,427.7" stroke="#ff0000" stroke-width="4.1"/>
<polyline points="119.1,291.3 121.1,291.3 123.1,291.3 125.1,291.3 127.1,291.3 129.1,291.3 131.1,291.3 133.1,291.3 135.1,291.3 137.1,291.3 139.1,291.3 141.1,291.3 143.1,291.3 145.1,291.3 147.1,291.3 149.1,291.3 151.1,291.3 153.1,291.3 155.1,291.3 157.1,291.3 159.1,291.3 161.1,291.3 163.1,291.3 165.1,291.3 167.1,291.3 169.1,291.3 171.1,291.3 173.1,291.3 175.1,291.3 177.1,291.3 179.1,291.3 181.1,291.3 183.1,291.3 185.1,291.3 187.1,291.3 189.1,291.3 191.1,291.3 193.1,291.3 195.1,291.3 197.1,291.3 199.1,291.3 201.1,291.3 203.1,291.3 205.1,291.3 207.1,291.3 209.1,291.3 211.1,291.3 213.1,291.3 215.1,291.3 217.1,291.3 219.1,291.3 221.1,291.3 223.1,291.3 225.1,291.3 227.1,291.3 229.1,291.3 231.1,291.3 233.1,291.3 235.1,291.3 237.1,291.3 239.1,291.3 241.1,291.3 243.1,291.3 245.1,291.3 247.1,291.3 249.1,291.3 251.1,291.3 253.1,291.3 255.1,291.3 257.1,291.3 259.1,291.3 261.1,291.3 263.1,291.3 265.1,291.3 267.1,291.3 269.1,291.3 271.1,291.3 273.1,291.3 275.1,291.3 277.1,291.3 279.1,291.3 281.1,291.3 283.1,291.3 285.1,291.3 287.1,291.3 289.1,291.3 291.1,291.3 293.1,291.3 295.1,291.3 297.1,291.3 299.1,291.3 301.1,291.3 303.1,291.3 305.1,291.3 307.1,291.3 309.1,291.3 311.1,291.3 313.1,291.3 315.1,291.3 317.1,291.3 319.1,291.3 321.1,291.3 323.1,291.3 325.1,291.3 327.1,291.3 329.1,291.3 331.1,291.3 333.1,291.3 335.1,291.3 337.1,291.3 339.1,291.3 341.1,291.3 343.1,291.3 345.1,291.3 347.1,291.3 349.1,291.3 351.1,291.3 353.1,291.3 355.1,291.3 357.1,291.3 359.1,291.3 361.1,291.3 363.1,291.3 365.1,291.3 367.1,291.3 369.1,291.3 371.1,291.3 373.1,291.3 375.1,291.3 377.1,291.3 379.1,291.3 381.1,291.3 383.1,291.3 385.1,291.3 387.1,291.3 389.1,291.3 391.1,291.3 393.1,291.3 395.1,291.3 397.1,291.3 399.1,291.3 401.1,291.3 403.1,291.3 405.1,291.3 407.1,291.3 409.1,291.3 411.1,291.3 413.1,291.3 415.1,291.3 417.1,291.3 419.1,291.3 421.1,291.3 423.1,291.3 425.1,291.3 427.1,291.3 429.1,291.4 431.1,291.4 433.1,291.4 435.1,291.4 437.1,291.4 439.1,291.4 441.1,291.4 443.1,291.4 445.1,291.4 447.1,291.4 449.1,291.4 451.1,291.4 453.1,291.4 455.1,291.4 457.1,291.4 459.1,291.4 461.1,291.5 463.1,291.5 465.1,291.5 467.1,291.5 469.1,291.5 471.1,291.5 473.1,291.5 475.1,291.5 477.1,291.6 479.1,291.6 481.1,291.6 483.1,291.6 485.1,291.6 487.1,291.7 489.1,291.7 491.1,291.7 493.1,291.7 495.1,291.8 497.1,291.8 499.1,291.8 501.1,291.9 503.1,291.9 505.1,291.9 507.1,292.0 509.1,292.0 511.1,292.1 513.1,292.1 515.1,292.2 517.1,292.3 519.1,292.3 521.1,292.4 523.1,292.5 525.1,292.5 527.1,292.6 529.1,292.7 531.1,292.8 533.1,292.9 535.1,293.0 537.1,293.1 539.1,293.2 541.1,293.4 543.1,293.5 545.1,293.6 547.1,293.8 549.1,294.0 551.1,294.1 553.1,294.3 555.1,294.5 557.1,294.7 559.1,294.9 561.1,295.2 563.1,295.4 565.1,295.7 567.1,296.0 569.1,296.3 571.1,296.6 573.1,296.9 575.1,297.2 577.1,297.6 579.1,298.0 581.1,298.4 583.1,298.8 585.1,299.3 587.1,299.8 589.1,300.3 591.1,300.8 593.1,301.3 595.1,301.9 597.1,302.5 599.1,303.2 601.1,303.8 603.1,304.5 605.1,305.2 607.1,306.0 609.1,306.8 611.1,307.6 613.1,308.5 615.1,309.3 617.1,310.3 619.1,311.2 621.1,312.2 623.1,313.2 625.1,314.2 627.1,315.3 629.1,316.4 631.1,317.6 633.1,318.8 635.1,320.0 637.1,321.2 639.1,322.5 641.1,323.8 643.1,325.2 645.1,326.5 647.1,327.9 649.1,329.3 651.1,330.8 653.1,332.3 655.1,333.8 657.1,335.3 659.1,336.9 661.1,338.4 663.1,340.0 665.1,341.6 667.1,343.3 669.1,344.9 671.1,346.6 673.1,348.3 675.1,350.0 677.1,351.8 679.1,353.5 681.1,355.3 683.1,357.1 685.1,358.9 687.1,360.7 689.1,362.5 691.1,364.3 693.1,366.2 695.1,368.0 697.1,369.9 699.1,371.7 701.1,373.6 703.1,375.5 705.1,377.4 707.1,379.3 709.1,381.2 711.1,383.1 713.1,385.1 715.1,387.0 717.1,388.9 719.1,390.9 721.1,392.8 723.1,394.8 725.1,396.7 727.1,398.7 729.1,400.6 731.1,402.6 733.1,404.6 735.1,406.5 737.1,408.5 739.1,410.5 741.1,412.5 743.1,414.5 745.1,416.4 747.1,418.4 749.1,420.4 751.1,422.4 753.1,424.4 755.1,426.4 757.1,428.4" stroke="#ff0000" stroke-width="4.1"/>
<line x1="120.8" y1="200.6" x2="749.1" y2="200.6" stroke="#808080" stroke-width="3.8" stroke-dasharray="9.7 9.65"/>
<line x1="120.8" y1="258.2" x2="749.1" y2="258.2" stroke="#808080" stroke-width="3.8" stroke-dasharray="9.7 9.65"/>
<line x1="120.8" y1="220.9" x2="749.1" y2="220.9" stroke="#808080" stroke-width="4" stroke-dasharray="2.5 9.59"/>
<line x1="120.8" y1="282.6" x2="749.1" y2="282.6" stroke="#808080" stroke-width="4" stroke-dasharray="2.5 9.59"/>
<rect x="743.6" y="410.0" width="5" height="1.6" fill="#e6bfe6"/>
</g>
<g stroke="#000" stroke-width="1.4" fill="none">
<rect x="121.1" y="24.0" width="628.0" height="388.0"/>
<path d="M190.9,412.0v-5.0M190.9,24.0v5.0M260.7,412.0v-5.0M260.7,24.0v5.0M330.5,412.0v-6.3M330.5,24.0v6.3M400.3,412.0v-5.0M400.3,24.0v5.0M470.1,412.0v-5.0M470.1,24.0v5.0M539.8,412.0v-6.3M539.8,24.0v6.3M609.6,412.0v-5.0M609.6,24.0v5.0M679.4,412.0v-5.0M679.4,24.0v5.0M121.1,397.1h5.0M121.1,361.9h6.3M121.1,326.6h5.0M121.1,291.3h6.3M121.1,256.1h5.0M121.1,220.8h6.3M121.1,185.5h5.0M121.1,150.2h6.3M121.1,115.0h5.0M121.1,79.7h6.3M121.1,44.4h5.0M749.1,376.7h-5.0M749.1,341.5h-6.3M749.1,306.2h-5.0M749.1,270.9h-6.3M749.1,235.7h-5.0M749.1,200.4h-6.3M749.1,165.1h-5.0M749.1,129.8h-6.3M749.1,94.6h-5.0M749.1,59.3h-6.3" stroke-width="1.3"/>
</g>
<line x1="191.2" y1="315.8" x2="239.6" y2="315.8" stroke="#0000ff" stroke-width="4.2"/>
<line x1="191.2" y1="382.2" x2="239.6" y2="382.2" stroke="#ff0000" stroke-width="4.2"/>
<g font-family="Liberation Sans, sans-serif" fill="#000" style="will-change:transform">
<path transform="translate(61.95,374.86) scale(0.01147,-0.01147)" d="M515,0V1237L197,1010V1180L530,1409H696V0Z"/>
<text x="75.02" y="374.86" font-size="23.5">0</text>
<text x="88.09" y="365.06" font-size="21.5">24</text>
<path transform="translate(61.95,304.32) scale(0.01147,-0.01147)" d="M515,0V1237L197,1010V1180L530,1409H696V0Z"/>
<text x="75.02" y="304.32" font-size="23.5">0</text>
<text x="88.09" y="294.52" font-size="21.5">26</text>
<path transform="translate(61.95,233.78) scale(0.01147,-0.01147)" d="M515,0V1237L197,1010V1180L530,1409H696V0Z"/>
<text x="75.02" y="233.78" font-size="23.5">0</text>
<text x="88.09" y="223.98" font-size="21.5">28</text>
<path transform="translate(61.95,163.24) scale(0.01147,-0.01147)" d="M515,0V1237L197,1010V1180L530,1409H696V0Z"/>
<text x="75.02" y="163.24" font-size="23.5">0</text>
<text x="88.09" y="153.44" font-size="21.5">30</text>
<path transform="translate(61.95,92.70) scale(0.01147,-0.01147)" d="M515,0V1237L197,1010V1180L530,1409H696V0Z"/>
<text x="75.02" y="92.70" font-size="23.5">0</text>
<text x="88.09" y="82.90" font-size="21.5">32</text>
<path transform="translate(757.20,425.00) scale(0.01147,-0.01147)" d="M515,0V1237L197,1010V1180L530,1409H696V0Z"/>
<text x="770.27" y="425.00" font-size="23.5">0</text>
<text x="783.34" y="415.20" font-size="21.5">22</text>
<path transform="translate(757.20,354.46) scale(0.01147,-0.01147)" d="M515,0V1237L197,1010V1180L530,1409H696V0Z"/>
<text x="770.27" y="354.46" font-size="23.5">0</text>
<text x="783.34" y="344.66" font-size="21.5">24</text>
<path transform="translate(757.20,283.92) scale(0.01147,-0.01147)" d="M515,0V1237L197,1010V1180L530,1409H696V0Z"/>
<text x="770.27" y="283.92" font-size="23.5">0</text>
<text x="783.34" y="274.12" font-size="21.5">26</text>
<path transform="translate(757.20,213.38) scale(0.01147,-0.01147)" d="M515,0V1237L197,1010V1180L530,1409H696V0Z"/>
<text x="770.27" y="213.38" font-size="23.5">0</text>
<text x="783.34" y="203.58" font-size="21.5">28</text>
<path transform="translate(757.20,142.84) scale(0.01147,-0.01147)" d="M515,0V1237L197,1010V1180L530,1409H696V0Z"/>
<text x="770.27" y="142.84" font-size="23.5">0</text>
<text x="783.34" y="133.04" font-size="21.5">30</text>
<path transform="translate(757.20,72.30) scale(0.01147,-0.01147)" d="M515,0V1237L197,1010V1180L530,1409H696V0Z"/>
<text x="770.27" y="72.30" font-size="23.5">0</text>
<text x="783.34" y="62.50" font-size="21.5">32</text>
<path transform="translate(89.40,451.20) scale(0.01147,-0.01147)" d="M515,0V1237L197,1010V1180L530,1409H696V0Z"/>
<text x="102.46" y="451.20" font-size="23.5">0</text>
<text x="115.53" y="441.40" font-size="21.5">−</text>
<path transform="translate(128.09,441.40) scale(0.01050,-0.01050)" d="M515,0V1237L197,1010V1180L530,1409H696V0Z"/>
<text x="140.05" y="441.40" font-size="21.5">0</text>
<path transform="translate(303.94,451.20) scale(0.01147,-0.01147)" d="M515,0V1237L197,1010V1180L530,1409H696V0Z"/>
<text x="317.01" y="451.20" font-size="23.5">0</text>
<text x="330.08" y="441.40" font-size="21.5">−7</text>
<path transform="translate(514.01,451.20) scale(0.01147,-0.01147)" d="M515,0V1237L197,1010V1180L530,1409H696V0Z"/>
<text x="527.08" y="451.20" font-size="23.5">0</text>
<text x="540.15" y="441.40" font-size="21.5">−4</text>
</g>
<g font-family="Liberation Serif, serif" fill="#000" style="will-change:transform">
<path d="M135.8,65.6V93.3" stroke="#000" stroke-width="1.2" fill="none"/>
<path d="M183.85,65.6V93.3" stroke="#000" stroke-width="1.2" fill="none"/>
<text transform="translate(137.98,87.10) scale(0.9566,1)" font-size="31.0" font-style="italic">U</text>
<text transform="translate(159.82,90.80) scale(0.9971,1)" font-size="19" font-style="italic">e</text>
<text transform="translate(168.93,90.80) scale(0.8905,1)" font-size="21.5">4</text>
<text transform="translate(188.24,75.10) scale(1.0810,1)" font-size="18">2</text>
<path d="M209.1,76.8H227.7M209.1,82.1H227.7" stroke="#000" stroke-width="1.2" fill="none"/>
<text transform="translate(237.35,87.10) scale(0.9295,1)" font-size="29.7">0</text>
<text transform="translate(251.70,87.10) scale(0.9688,1)" font-size="29.7">.</text>
<text transform="translate(258.82,87.10) scale(0.9525,1)" font-size="29.7">0001</text>
<g transform="translate(257.2,324.2)" fill="none" stroke="#000" stroke-linecap="round" stroke-linejoin="round"><path stroke-width="1.0" d="M0.4,-8.4C1.2,-11.3 2.2,-12.9 3.4,-12.9M3.4,-7.6C5.4,-11.3 7.9,-13.2 9.9,-13.1M11.5,-7.6C13.6,-11.3 16.4,-13.2 18.5,-13.1M20.2,-0.5C21.5,-0.7 22.5,-2.4 23.2,-4.6"/><path stroke-width="2.0" d="M3.9,-12.4L1.9,-0.8M9.9,-13.0C12,-12.9 12.6,-11.5 12.1,-9.5L10.0,-0.8M18.5,-13.0C20.6,-12.9 21,-11.3 20.4,-9L18.5,-3C18.1,-1.3 19,-0.4 20.2,-0.5"/></g>
<text transform="translate(282.10,328.10) scale(0.9212,1)" font-size="18.5">1</text>
<path d="M302.3,313.95H320.7M302.3,319.45H320.7" stroke="#000" stroke-width="1.2" fill="none"/>
<g transform="translate(257.2,389.9)" fill="none" stroke="#000" stroke-linecap="round" stroke-linejoin="round"><path stroke-width="1.0" d="M0.4,-8.4C1.2,-11.3 2.2,-12.9 3.4,-12.9M3.4,-7.6C5.4,-11.3 7.9,-13.2 9.9,-13.1M11.5,-7.6C13.6,-11.3 16.4,-13.2 18.5,-13.1M20.2,-0.5C21.5,-0.7 22.5,-2.4 23.2,-4.6"/><path stroke-width="2.0" d="M3.9,-12.4L1.9,-0.8M9.9,-13.0C12,-12.9 12.6,-11.5 12.1,-9.5L10.0,-0.8M18.5,-13.0C20.6,-12.9 21,-11.3 20.4,-9L18.5,-3C18.1,-1.3 19,-0.4 20.2,-0.5"/></g>
<text transform="translate(282.10,393.80) scale(0.9212,1)" font-size="18.5">1</text>
<path d="M302.3,380.1H320.7M302.3,385.45H320.7" stroke="#000" stroke-width="1.2" fill="none"/>
<text transform="translate(330.95,324.70) scale(0.9295,1)" font-size="29.7">0</text>
<text transform="translate(353.65,324.70) scale(0.8356,1)" font-size="29.1">e</text>
<text transform="translate(363.45,324.70) scale(1.0277,1)" font-size="29.9">V</text>
<text transform="translate(330.55,390.40) scale(0.9295,1)" font-size="29.7">0</text>
<text transform="translate(345.20,390.40) scale(0.9688,1)" font-size="29.7">.</text>
<text transform="translate(353.05,390.40) scale(0.8608,1)" font-size="29.7">1</text>
<text transform="translate(366.34,390.40) scale(0.9612,1)" font-size="29.7">5</text>
<text transform="translate(390.17,390.40) scale(0.9099,1)" font-size="29.1">e</text>
<text transform="translate(400.68,390.40) scale(0.9560,1)" font-size="29.9">V</text>
<g transform="translate(376.2,503.3)" fill="none" stroke="#000" stroke-linecap="round" stroke-linejoin="round"><path stroke-width="1.0" d="M0.4,-8.4C1.2,-11.3 2.2,-12.9 3.4,-12.9M3.4,-7.6C5.4,-11.3 7.9,-13.2 9.9,-13.1M11.5,-7.6C13.6,-11.3 16.4,-13.2 18.5,-13.1M20.2,-0.5C21.5,-0.7 22.5,-2.4 23.2,-4.6"/><path stroke-width="2.0" d="M3.9,-12.4L1.9,-0.8M9.9,-13.0C12,-12.9 12.6,-11.5 12.1,-9.5L10.0,-0.8M18.5,-13.0C20.6,-12.9 21,-11.3 20.4,-9L18.5,-3C18.1,-1.3 19,-0.4 20.2,-0.5"/></g>
<text transform="translate(400.52,507.50) scale(0.9445,1)" font-size="20.5">4</text>
<path d="M428.6,482.3H425.2V509.5H428.6" stroke="#000" stroke-width="1.3" fill="none"/>
<text transform="translate(429.12,503.30) scale(0.9055,1)" font-size="29.9">M</text>
<text transform="translate(452.84,503.30) scale(0.8449,1)" font-size="29.1">e</text>
<text transform="translate(462.36,503.30) scale(1.0038,1)" font-size="29.9">V</text>
<path d="M486.6,482.3H490.2V509.5H486.6" stroke="#000" stroke-width="1.3" fill="none"/>
<g transform="translate(27.2,0) rotate(-90)">
<text transform="translate(-307.76,0.00) scale(0.9490,1)" font-size="29.9" font-style="italic">T</text>
<text transform="translate(-289.48,-12.90) scale(0.9693,1)" font-size="18.5">0</text>
<text transform="translate(-279.36,-12.90) scale(1.3134,1)" font-size="20" font-style="italic">ν</text>
<text transform="translate(-290.25,7.00) scale(0.8905,1)" font-size="18.5">1</text>
<text transform="translate(-281.60,11.00) scale(1.0438,1)" font-size="30">/</text>
<text transform="translate(-272.03,7.00) scale(1.1461,1)" font-size="18.5">2</text>
<path d="M-249.20,-22.2Q-262.20,-7.50 -249.20,7.2Q-258.80,-7.50 -249.20,-22.2Z" fill="#000" stroke="#000" stroke-width="0.5" stroke-linejoin="round"/>
<text transform="translate(-247.90,-12.90) scale(0.9870,1)" font-size="18.5">7</text>
<text transform="translate(-238.12,-12.90) scale(1.0374,1)" font-size="18.5">6</text>
<text transform="translate(-228.63,0.00) scale(1.0807,1)" font-size="29.9">G</text>
<text transform="translate(-204.24,0.00) scale(1.0027,1)" font-size="29.1">e</text>
<path d="M-189.30,-22.2Q-176.30,-7.50 -189.30,7.2Q-179.70,-7.50 -189.30,-22.2Z" fill="#000" stroke="#000" stroke-width="0.5" stroke-linejoin="round"/>
<path d="M-163.6,-21.5H-166.8V6.2H-163.6" stroke="#000" stroke-width="1.2" fill="none"/>
<text transform="translate(-161.95,0.00) scale(0.9729,1)" font-size="29.1">y</text>
<text transform="translate(-147.80,0.00) scale(0.8585,1)" font-size="29.1">r</text>
<path d="M-136.0,-21.5H-132.8V6.2H-136.0" stroke="#000" stroke-width="1.2" fill="none"/>
</g>
<g transform="translate(855.2,0) rotate(-90)">
<text transform="translate(-312.67,0.00) scale(0.9064,1)" font-size="29.9" font-style="italic">T</text>
<text transform="translate(-295.60,-12.90) scale(0.9948,1)" font-size="18.5">0</text>
<text transform="translate(-285.08,-12.90) scale(1.3832,1)" font-size="20" font-style="italic">ν</text>
<text transform="translate(-296.40,7.00) scale(0.9212,1)" font-size="18.5">1</text>
<text transform="translate(-287.80,11.00) scale(1.0918,1)" font-size="30">/</text>
<text transform="translate(-277.68,7.00) scale(1.2001,1)" font-size="18.5">2</text>
<path d="M-253.80,-22.2Q-267.00,-7.50 -253.80,7.2Q-263.60,-7.50 -253.80,-22.2Z" fill="#000" stroke="#000" stroke-width="0.5" stroke-linejoin="round"/>
<text transform="translate(-249.12,-12.90) scale(0.9366,1)" font-size="18.5">1</text>
<text transform="translate(-239.30,-12.90) scale(1.0207,1)" font-size="18.5">3</text>
<text transform="translate(-229.94,-12.90) scale(0.9362,1)" font-size="18.5">6</text>
<text transform="translate(-219.73,0.00) scale(0.9561,1)" font-size="29.9">X</text>
<text transform="translate(-198.49,0.00) scale(0.9563,1)" font-size="29.1">e</text>
<path d="M-185.40,-22.2Q-172.40,-7.50 -185.40,7.2Q-175.80,-7.50 -185.40,-22.2Z" fill="#000" stroke="#000" stroke-width="0.5" stroke-linejoin="round"/>
<path d="M-158.8,-21.5H-162.0V6.2H-158.8" stroke="#000" stroke-width="1.2" fill="none"/>
<text transform="translate(-156.65,0.00) scale(0.9729,1)" font-size="29.1">y</text>
<text transform="translate(-142.50,0.00) scale(0.8585,1)" font-size="29.1">r</text>
<path d="M-131.2,-21.5H-128.0V6.2H-131.2" stroke="#000" stroke-width="1.2" fill="none"/>
</g>
</g>
</svg>
</body></html>
